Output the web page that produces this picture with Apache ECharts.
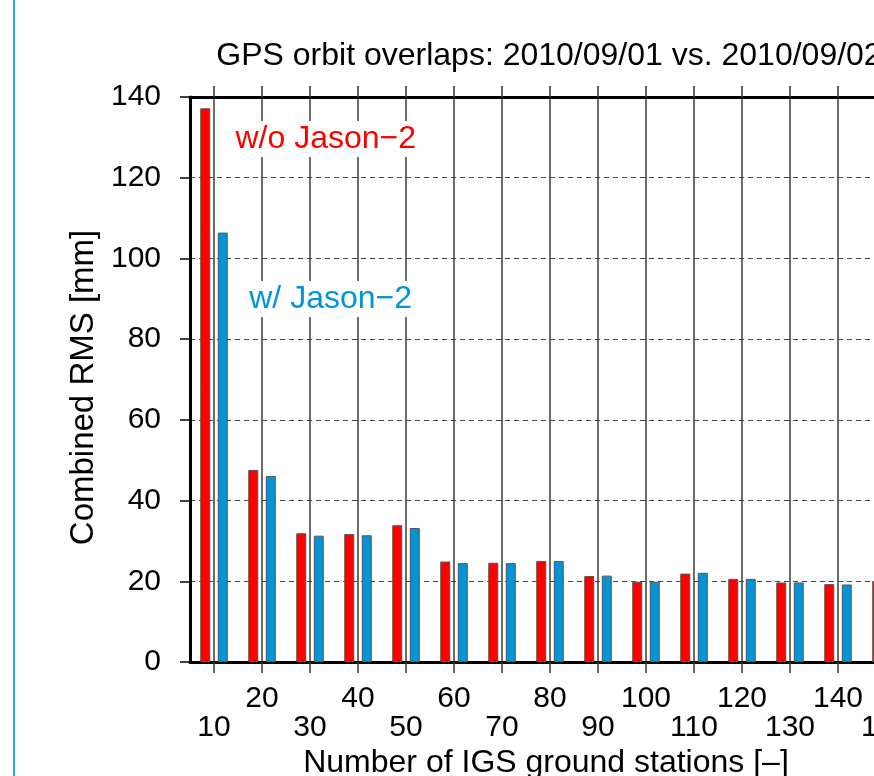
<!DOCTYPE html>
<html>
<head>
<meta charset="utf-8">
<script src="https://cdn.jsdelivr.net/npm/echarts@6/dist/echarts.min.js"></script>
<style>
  html, body { margin: 0; padding: 0; background: #ffffff; }
  #chart { width: 874px; height: 776px; }
</style>
</head>
<body>
<div id="chart"></div>
<script>
// Number of IGS ground stations used in the solution
const stations = ['10', '20', '30', '40', '50', '60', '70', '80', '90', '100', '110', '120', '130', '140', '150'];
// Combined RMS of the orbit overlaps [mm]
const rmsWithoutJason = [137.2, 47.6, 31.9, 31.7, 33.9, 24.9, 24.6, 25.0, 21.3, 19.9, 21.9, 20.6, 19.7, 19.3, 20.1];
const rmsWithJason    = [106.4, 46.1, 31.3, 31.4, 33.2, 24.5, 24.5, 25.0, 21.4, 19.9, 22.1, 20.6, 19.7, 19.2, 20.0];
// Y axis range and step
const rmsMin = 0, rmsMax = 140, rmsStep = 20;

const FONT = 'Liberation Sans, Arial, Helvetica, sans-serif';
const RED = '#ff0000';
const BLUE = '#0095da';

const chart = echarts.init(document.getElementById('chart'), null, { renderer: 'canvas' });

const option = {
  backgroundColor: '#ffffff',
  animation: false,
  title: {
    text: 'GPS orbit overlaps: 2010/09/01 vs. 2010/09/02',
    left: 549,
    top: 40,
    textAlign: 'center',
    padding: 0,
    textStyle: { fontFamily: FONT, fontSize: 32, fontWeight: 'normal', color: '#000' }
  },
  grid: {
    left: 190, top: 97, bottom: 114, right: -36,
    outerBoundsMode: 'none',
    containLabel: false
  },
  xAxis: [
    {
      type: 'category',
      position: 'bottom',
      data: stations,
      boundaryGap: true,
      name: 'Number of IGS ground stations [\u2013]',
      nameLocation: 'middle',
      nameGap: 85,
      nameTextStyle: { fontFamily: FONT, fontSize: 32, color: '#000', padding: [0, 8, 0, 0] },
      axisLine: { show: true, lineStyle: { color: '#000', width: 3 } },
      axisTick: { show: true, alignWithLabel: true, inside: false, length: 11, lineStyle: { color: '#333', width: 1.5 } },
      axisLabel: {
        show: true, interval: 0, margin: 22,
        fontFamily: FONT, fontSize: 30, color: '#000', lineHeight: 29,
        formatter: (v, i) => (i % 2 === 0 ? ' \n' + v : v + '\n ')
      },
      splitLine: { show: true, alignWithLabel: true, lineStyle: { color: '#3a3a3a', width: 1.5, type: 'solid' } }
    },
    {
      type: 'category',
      position: 'top',
      data: stations,
      boundaryGap: true,
      axisLine: { show: true, lineStyle: { color: '#000', width: 3 } },
      axisTick: { show: true, alignWithLabel: true, inside: false, length: 11, lineStyle: { color: '#333', width: 1.5 } },
      axisLabel: { show: false },
      splitLine: { show: false }
    }
  ],
  yAxis: {
    type: 'value',
    min: rmsMin, max: rmsMax, interval: rmsStep,
    name: 'Combined RMS [mm]',
    nameLocation: 'middle',
    nameGap: 89,
    nameRotate: 90,
    nameTextStyle: { fontFamily: FONT, fontSize: 33, color: '#000', padding: [0, 16, 0, 0] },
    axisLine: { show: true, lineStyle: { color: '#000', width: 3 } },
    axisTick: { show: true, inside: false, length: 10, lineStyle: { color: '#000', width: 1.5 } },
    axisLabel: { show: true, margin: 29, fontFamily: FONT, fontSize: 30, color: '#000' },
    splitLine: { show: true, lineStyle: { color: '#444', width: 1, type: [5, 4] } }
  },
  series: [
    {
      name: 'w/o Jason\u22122',
      type: 'bar',
      xAxisIndex: 0,
      data: rmsWithoutJason,
      barWidth: 10,
      barGap: '75%',
      itemStyle: { color: RED, borderColor: '#555', borderWidth: 1 },
      z: 3
    },
    {
      name: 'w/ Jason\u22122',
      type: 'bar',
      xAxisIndex: 0,
      data: rmsWithJason,
      barWidth: 10,
      barGap: '75%',
      itemStyle: { color: BLUE, borderColor: '#555', borderWidth: 1 },
      z: 3
    }
  ],
  graphic: [
    {
      type: 'rect',
      z: 100,
      shape: { x: 13, y: 0, width: 2, height: 776 },
      style: { fill: '#27a8e2' }
    },
    {
      type: 'text',
      z: 100,
      x: 419, y: 139,
      style: {
        text: 'w/o Jason\u22122',
        font: '32px ' + FONT,
        fill: RED,
        align: 'right', verticalAlign: 'middle',
        backgroundColor: '#ffffff',
        padding: [2, 3, 2, 3]
      }
    },
    {
      type: 'text',
      z: 100,
      x: 415, y: 299,
      style: {
        text: 'w/ Jason\u22122',
        font: '32px ' + FONT,
        fill: BLUE,
        align: 'right', verticalAlign: 'middle',
        backgroundColor: '#ffffff',
        padding: [2, 3, 2, 3]
      }
    }
  ]
};

chart.setOption(option);
</script>
</body>
</html>
